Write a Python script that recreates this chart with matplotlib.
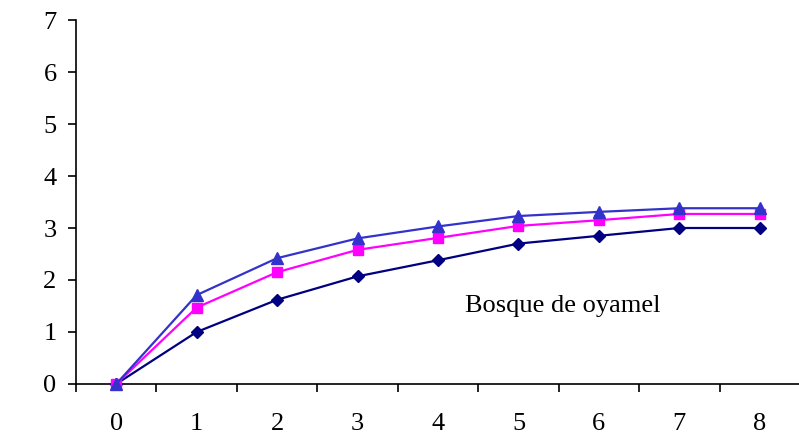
import matplotlib
matplotlib.use("Agg")
import matplotlib.pyplot as plt
from matplotlib.ticker import FixedLocator

# Data series (three curves for the oyamel forest site)
x_vals = [0, 1, 2, 3, 4, 5, 6, 7, 8]
serie_baja = [0, 1.00, 1.62, 2.07, 2.38, 2.70, 2.85, 3.00, 3.00]
serie_media = [0, 1.47, 2.15, 2.58, 2.81, 3.04, 3.15, 3.27, 3.27]
serie_alta = [0, 1.71, 2.42, 2.80, 3.03, 3.23, 3.31, 3.38, 3.38]
x_tick_labels = ["0", "1", "2", "3", "4", "5", "6", "7", "8"]
y_ticks = [0, 1, 2, 3, 4, 5, 6, 7]
etiqueta = "Bosque de oyamel"

plt.rcParams["font.family"] = ["Liberation Serif", "DejaVu Serif"]

fig = plt.figure(figsize=(7.99, 4.38), dpi=100)
ax = fig.add_axes([76 / 799, 54 / 438, 724 / 799, 364 / 438])

ax.plot(x_vals, serie_baja, color="#000080", lw=1.6, marker="D", ms=6.5,
        clip_on=False, zorder=3)
ax.plot(x_vals, serie_media, color="#FF00FF", lw=1.6, marker="s", ms=7.5,
        clip_on=False, zorder=4)
ax.plot(x_vals, serie_alta, color="#3333CC", lw=1.6, marker="^", ms=8,
        clip_on=False, zorder=5)

ax.set_xlim(-0.5, 8.5)
ax.set_ylim(0, 7)

# Category-style x axis: tick marks between categories, labels on them
ax.xaxis.set_major_locator(FixedLocator(x_vals))
ax.set_xticklabels(x_tick_labels)
ax.xaxis.set_minor_locator(FixedLocator([v - 0.5 for v in x_vals] + [8.5]))
ax.tick_params(axis="x", which="major", length=0, pad=21, labelsize=19)
ax.tick_params(axis="x", which="minor", length=6, width=1.2, direction="out")

ax.set_yticks(y_ticks)
ax.tick_params(axis="y", which="major", length=6, width=1.2, direction="out",
               pad=8, labelsize=19)

for side in ("top", "right"):
    ax.spines[side].set_visible(False)
for side in ("left", "bottom"):
    ax.spines[side].set_linewidth(1.2)
    ax.spines[side].set_color("black")

ax.text(5.55, 1.5, etiqueta, fontsize=19, ha="center", va="center")

fig.savefig("out.png", dpi=100)
